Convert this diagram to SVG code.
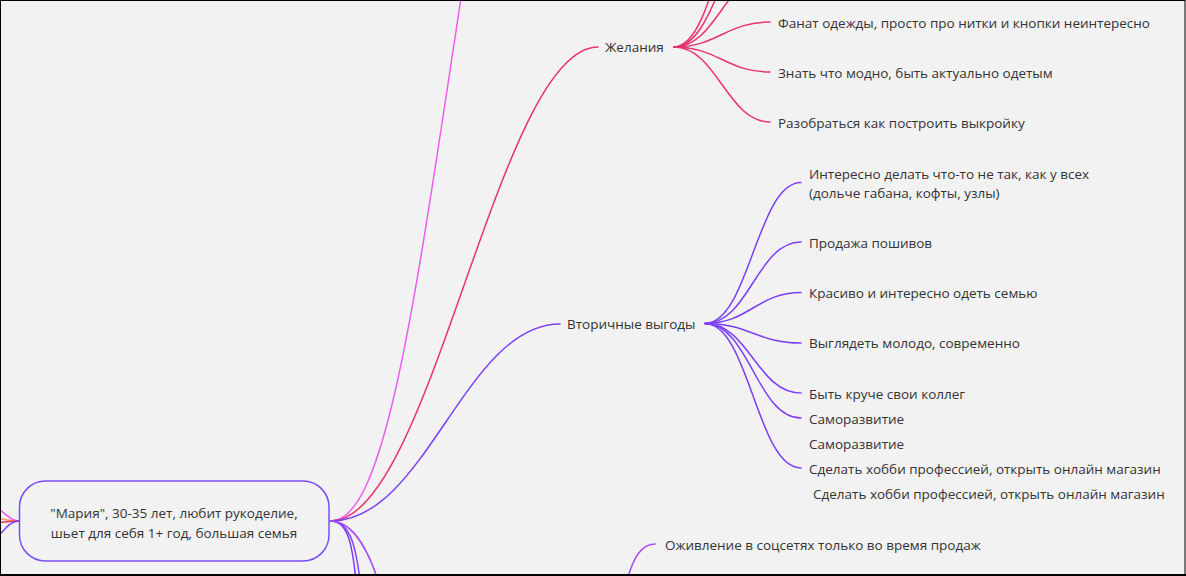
<svg xmlns="http://www.w3.org/2000/svg" width="1186" height="576" viewBox="0 0 1186 576">
<style>
.lbl{font-family:"Open Sans","Noto Sans",sans-serif;font-size:13.5px;fill:#333333;}
.c{fill:none;stroke-width:1.5;stroke-linecap:round;}
.pk{stroke:#ee5cef;}
.rd{stroke:#e8336d;}
.pp{stroke:#7b3ff5;}
.vp{stroke:#a94cf5;}
</style>
<rect x="0" y="0" width="1186" height="576" fill="#f2f2f2"/>
<g id="connectors">
<path class="c pk" d="M19,521 C10,521 6,513 -2,509"/>
<path class="c" stroke="#f59a5c" d="M19,521 C10,521 5,519 -2,519"/>
<path class="c rd" d="M19,521 C10,521 5,522 -2,522.5"/>
<path class="c pp" d="M19,521 C10,521 5,530 -2,536"/>
<path class="c pk" d="M331,521 C390,521 420,260 470,-60"/>
<path class="c rd" d="M331,521 C431,521 498,47 598,47"/>
<path class="c pp" d="M331,521 C426,521 465,324 560,324"/>
<path class="c pp" d="M331,521 C349,521 353,548 357,590"/>
<path class="c" stroke="#8c3ff5" d="M331,521 C351,521 357,550 361,590"/>
<path class="c vp" d="M331,521 C355,522 370,553 381,590"/>
<path class="c vp" d="M655,544 C640,544 633,560 627,580"/>
<path class="c rd" d="M674,47 C717,47 727,-28 770,-28"/>
<path class="c rd" d="M674,47 C717,47 727,-78 770,-78"/>
<path class="c rd" d="M674,47 C717,47 727,-128 770,-128"/>
<path class="c rd" d="M674,47 C717,47 727,22 770,22"/>
<path class="c rd" d="M674,47 C717,47 727,72 770,72"/>
<path class="c rd" d="M674,47 C717,47 727,122 770,122"/>
<path class="c pp" d="M705,323.5 C749,323.5 757,182.5 801,182.5"/>
<path class="c pp" d="M705,323.5 C749,323.5 757,242 801,242"/>
<path class="c pp" d="M705,323.5 C749,323.5 757,292.5 801,292.5"/>
<path class="c pp" d="M705,323.5 C749,323.5 757,343 801,343"/>
<path class="c pp" d="M705,323.5 C749,323.5 757,393 801,393"/>
<path class="c pp" d="M705,323.5 C749,323.5 757,418 801,418"/>
<path class="c pp" d="M705,323.5 C749,323.5 757,468 801,468"/>
</g>
<g id="root">
<rect x="19.5" y="481" width="309.5" height="80" rx="26" fill="#f2f2f2" stroke="#7b4df5" stroke-width="1.5"/>
<text class="lbl" x="174" y="517.5" text-anchor="middle">"Мария", 30-35 лет, любит рукоделие,</text>
<text class="lbl" x="174" y="537.5" text-anchor="middle">шьет для себя 1+ год, большая семья</text>
</g>
<g id="zhelaniya"><text class="lbl" x="605" y="52.3">Желания</text></g>
<g id="fanat"><text class="lbl" x="778" y="27.5">Фанат одежды, просто про нитки и кнопки неинтересно</text></g>
<g id="znat"><text class="lbl" x="778" y="77.5">Знать что модно, быть актуально одетым</text></g>
<g id="razobratsya"><text class="lbl" x="778" y="127.5">Разобраться как построить выкройку</text></g>
<g id="vtorichnye"><text class="lbl" x="567" y="328.5">Вторичные выгоды</text></g>
<g id="interesno"><text class="lbl" x="809" y="178.5">Интересно делать что-то не так, как у всех</text><text class="lbl" x="809" y="197.5">(дольче габана, кофты, узлы)</text></g>
<g id="prodazha"><text class="lbl" x="809" y="247.5">Продажа пошивов</text></g>
<g id="krasivo"><text class="lbl" x="809" y="297.5">Красиво и интересно одеть семью</text></g>
<g id="vyglyadet"><text class="lbl" x="809" y="348">Выглядеть молодо, современно</text></g>
<g id="byt"><text class="lbl" x="809" y="398.5">Быть круче свои коллег</text></g>
<g id="samorazvitie1"><text class="lbl" x="809" y="423.5">Саморазвитие</text></g>
<g id="samorazvitie2"><text class="lbl" x="809" y="448.5">Саморазвитие</text></g>
<g id="sdelat1"><text class="lbl" x="809" y="473.5">Сделать хобби профессией, открыть онлайн магазин</text></g>
<g id="sdelat2"><text class="lbl" x="813" y="498.5">Сделать хобби профессией, открыть онлайн магазин</text></g>
<g id="ozhivlenie"><text class="lbl" x="665" y="549.5">Оживление в соцсетях только во время продаж</text></g>
<rect x="0.5" y="0.5" width="1184.5" height="574" fill="none" stroke="#000000" stroke-width="1"/>
<rect x="0" y="574" width="1186" height="2" fill="#000000"/>
</svg>
